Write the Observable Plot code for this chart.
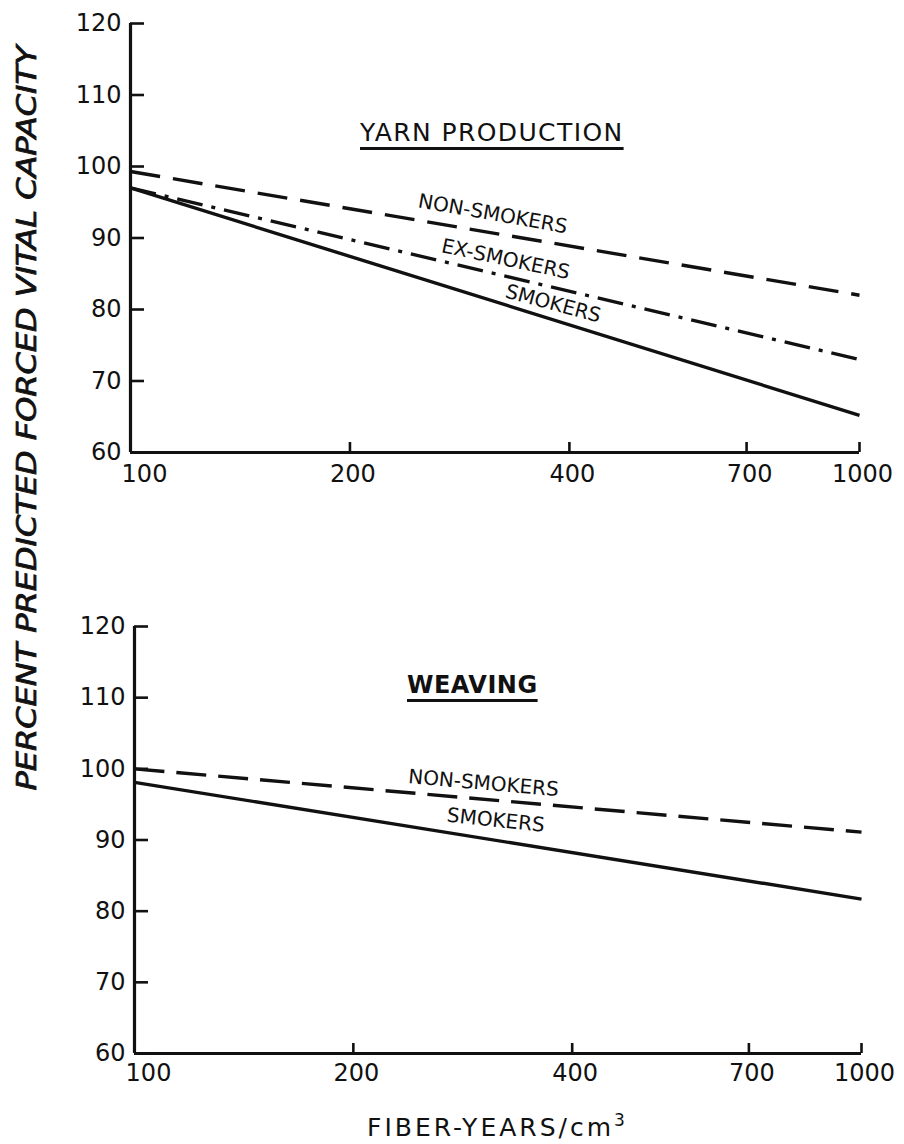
<!DOCTYPE html>
<html><head><meta charset="utf-8">
<script src="https://cdn.jsdelivr.net/npm/d3@7"></script>
<script src="https://cdn.jsdelivr.net/npm/@observablehq/plot@0.6"></script>
<style>
body{margin:0;background:#fff;}
#wrap{position:relative;width:904px;height:1144px;overflow:hidden;font-family:"DejaVu Sans",sans-serif;color:#111;background:#fff;}
.panel{position:absolute;left:0;}
.title{position:absolute;white-space:nowrap;color:#111;text-decoration:underline;text-decoration-thickness:3px;text-underline-offset:6px;}
#xlabel{position:absolute;white-space:nowrap;color:#111;}
#ylabel{position:absolute;left:0;top:0;}
</style></head><body>
<div id="wrap"></div>
<script>
// ---- data ----
const fiberYears = [100, 1000];
const xTicks = [100, 200, 400, 700, 1000];
const yTicks = [60, 70, 80, 90, 100, 110, 120];
const yarnNonSmokers = [99.3, 82];
const yarnExSmokers = [97, 73];
const yarnSmokers = [97, 65.2];
const weavingNonSmokers = [100, 91.1];
const weavingSmokers = [98.1, 81.7];
const panelTitles = ["YARN PRODUCTION", "WEAVING"];
const seriesNames = ["NON-SMOKERS", "EX-SMOKERS", "SMOKERS"];
const yLabel = "PERCENT PREDICTED FORCED VITAL CAPACITY";
const xLabel = "FIBER-YEARS/cm";

const W = 904;
const ink = "#111";

function seriesRows(values) {
  return fiberYears.map((x, i) => ({x, y: values[i]}));
}
function onLine(values, x) {
  const t = Math.log10(x / fiberYears[0]) / Math.log10(fiberYears[1] / fiberYears[0]);
  return values[0] + (values[1] - values[0]) * t;
}

function panel({series, height, marginTop, marginBottom, marginLeft, marginRight, tickPad}) {
  const innerW = W - marginLeft - marginRight;
  const innerH = height - marginTop - marginBottom;
  const marks = [];
  for (const s of series) {
    marks.push(Plot.line(seriesRows(s.values), {x: "x", y: "y", stroke: ink, strokeWidth: 3.4, strokeDasharray: s.dash, strokeLinecap: "butt"}));
    marks.push(Plot.text([{x: s.lx, y: onLine(s.values, s.lx), t: s.name}], {
      x: "x", y: "y", text: "t", dy: s.dy, rotate: s.rot, fontSize: 20, fill: ink, fontFamily: "DejaVu Sans",
      letterSpacing: s.ls
    }));
  }
  marks.push(Plot.ruleX([fiberYears[0]], {stroke: ink, strokeWidth: 3.2}));
  marks.push(Plot.ruleY([yTicks[0]], {stroke: ink, strokeWidth: 3}));
  marks.push(Plot.tickY(yTicks, {y: d => d, insetRight: innerW - 14, stroke: ink, strokeWidth: 2.6}));
  marks.push(Plot.tickX(xTicks, {x: d => d, insetTop: innerH - 10, stroke: ink, strokeWidth: 2.6}));
  // first x label sits just right of the corner, the others are centred on their ticks
  marks.push(Plot.axisX(xTicks.slice(0, 1), {tickSize: 0, tickPadding: tickPad, fontSize: 24, dx: 14, tickFormat: d => String(d), label: null, fill: ink}));
  marks.push(Plot.axisX(xTicks.slice(1), {tickSize: 0, tickPadding: tickPad, fontSize: 24, dx: 3, tickFormat: d => String(d), label: null, fill: ink}));
  marks.push(Plot.axisY(yTicks, {tickSize: 0, tickPadding: 9, fontSize: 24, tickFormat: d => String(d), label: null, fill: ink}));
  return Plot.plot({
    width: W, height, marginTop, marginBottom, marginLeft, marginRight,
    x: {type: "log", domain: [100, 1000]},
    y: {domain: [60, 120]},
    style: {fontFamily: "DejaVu Sans", background: "transparent", color: ink},
    marks
  });
}

const wrap = document.getElementById("wrap");

const topPanel = panel({
  height: 500, marginTop: 23, marginBottom: 48, marginLeft: 130, marginRight: 45, tickPad: 12,
  series: [
    {name: seriesNames[0], values: yarnNonSmokers, dash: "30,13", lx: 314, dy: -19, rot: 10, ls: "1.6px"},
    {name: seriesNames[1], values: yarnExSmokers, dash: "26,9,4,9", lx: 327, dy: -17, rot: 12, ls: "2.4px"},
    {name: seriesNames[2], values: yarnSmokers, dash: null, lx: 380, dy: -16, rot: 15, ls: "1.6px"}
  ]
});
topPanel.classList.add("panel"); topPanel.style.top = "0px";
wrap.appendChild(topPanel);

const bottomPanel = panel({
  height: 521, marginTop: 46, marginBottom: 48, marginLeft: 134, marginRight: 43, tickPad: 10,
  series: [
    {name: seriesNames[0], values: weavingNonSmokers, dash: "30,12", lx: 302, dy: -16, rot: 5, ls: "1.6px"},
    {name: seriesNames[2], values: weavingSmokers, dash: null, lx: 314, dy: -20, rot: 6, ls: "1.6px"}
  ]
});
bottomPanel.classList.add("panel"); bottomPanel.style.top = "580px";
wrap.appendChild(bottomPanel);

// titles
const t1 = document.createElement("div");
t1.className = "title"; t1.textContent = panelTitles[0];
Object.assign(t1.style, {left: "360px", top: "118px", fontSize: "25px", letterSpacing: "1.4px"});
wrap.appendChild(t1);
const t2 = document.createElement("div");
t2.className = "title"; t2.textContent = panelTitles[1];
Object.assign(t2.style, {left: "407px", top: "671px", fontSize: "24px", fontWeight: "bold", letterSpacing: "0.5px"});
wrap.appendChild(t2);

// x label
const xl = document.createElement("div");
xl.id = "xlabel";
xl.innerHTML = xLabel + "<sup style='font-size:17px;vertical-align:10px'>3</sup>";
Object.assign(xl.style, {left: "367px", top: "1110px", fontSize: "25px", letterSpacing: "3px"});
wrap.appendChild(xl);

// y label (rotated, spans both panels)
const NS = "http://www.w3.org/2000/svg";
const ysvg = document.createElementNS(NS, "svg");
ysvg.setAttribute("id", "ylabel");
ysvg.setAttribute("width", 60); ysvg.setAttribute("height", 1144);
const yt = document.createElementNS(NS, "text");
yt.setAttribute("transform", "translate(36,418) rotate(-90)");
yt.setAttribute("text-anchor", "middle");
yt.setAttribute("font-family", "DejaVu Sans Condensed, DejaVu Sans, sans-serif");
yt.setAttribute("font-style", "italic");
yt.setAttribute("font-size", "26");
yt.setAttribute("fill", ink);
yt.setAttribute("stroke", ink);
yt.setAttribute("stroke-width", "0.7");
yt.setAttribute("textLength", "745");
yt.setAttribute("lengthAdjust", "spacingAndGlyphs");
yt.textContent = yLabel;
ysvg.appendChild(yt);
wrap.appendChild(ysvg);
</script>
</body></html>
